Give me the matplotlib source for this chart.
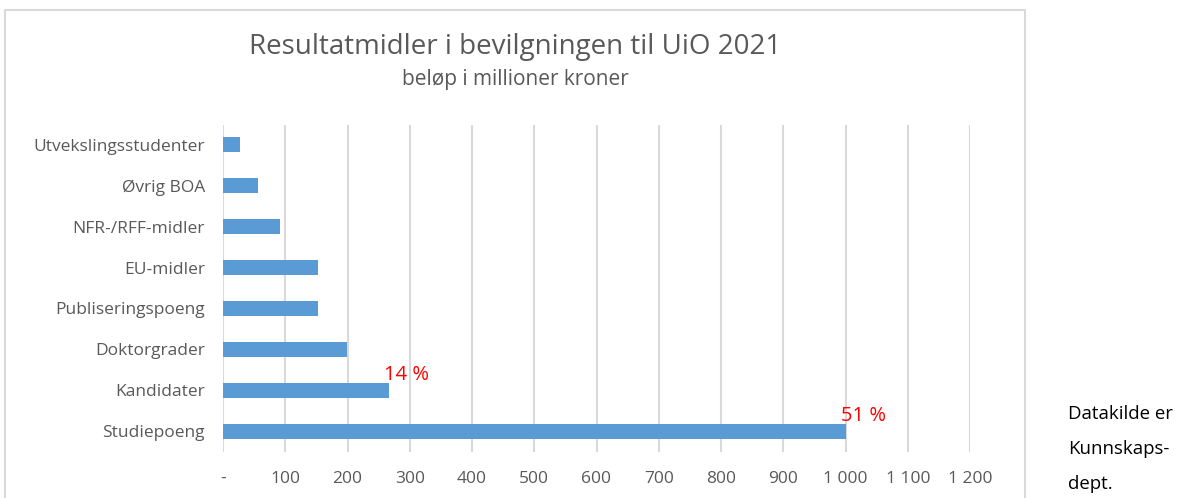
import matplotlib.pyplot as plt
from matplotlib.patches import Rectangle
from matplotlib.ticker import FuncFormatter

# data (mill. kr)
kategorier = ['Studiepoeng', 'Kandidater', 'Doktorgrader', 'Publiseringspoeng',
              'EU-midler', 'NFR-/RFF-midler', 'Øvrig BOA', 'Utvekslingsstudenter']
belop = [1000, 266, 199, 152, 152, 92, 57, 28]
andel_tekst = ['51 %', '14 %', '', '', '', '', '', '']

W, H = 1199, 498
fig = plt.figure(figsize=(W / 100, H / 100), dpi=100)
plt.rcParams['font.family'] = ['Open Sans', 'DejaVu Sans']

# ramme rundt diagrammet
fig.patches.append(Rectangle((5 / W, -0.05), 1020 / W, 1.05 - 10 / H,
                             transform=fig.transFigure, fill=False,
                             edgecolor='#d9d9d9', linewidth=1.5))

ax = fig.add_axes([223 / W, 1 - 451.5 / H, (970 - 223) / W, (451.5 - 124.5) / H])
y = range(len(kategorier))
ax.barh(y, belop, height=0.37, color='#5b9bd5', zorder=3)
ax.set_ylim(-0.5, len(kategorier) - 0.5)
ax.set_xlim(0, 1200)
ax.set_xticks(range(0, 1201, 100))


def fmt(v, pos):
    if v == 0:
        return '-'
    return f'{int(v):,}'.replace(',', ' ')


ax.xaxis.set_major_formatter(FuncFormatter(fmt))
ax.set_yticks(list(y))
ax.set_yticklabels(kategorier)
ax.grid(axis='x', color='#d9d9d9', linewidth=1.5, zorder=0)
for s in ax.spines.values():
    s.set_visible(False)
ax.tick_params(axis='both', length=0, colors='#595959', labelsize=12.5)
ax.tick_params(axis='y', pad=13)
ax.tick_params(axis='x', pad=14)

for i, (v, t) in enumerate(zip(belop, andel_tekst)):
    if t:
        ax.annotate(t, (v, i), xytext=(13, 11), textcoords='offset points',
                    color='#ff0000', fontsize=14.5, ha='center', va='center')

fig.text(515 / W, 1 - 47 / H, 'Resultatmidler i bevilgningen til UiO 2021',
         ha='center', va='center', fontsize=20, color='#595959')
fig.text(515 / W, 1 - 80 / H, 'beløp i millioner kroner',
         ha='center', va='center', fontsize=15, color='#595959')

fig.text(1068 / W, 1 - 405 / H, 'Datakilde er\nKunnskaps-\ndept.',
         ha='left', va='top', fontsize=13.4, color='black', linespacing=2.2)

fig.savefig('out.png', dpi=100)
